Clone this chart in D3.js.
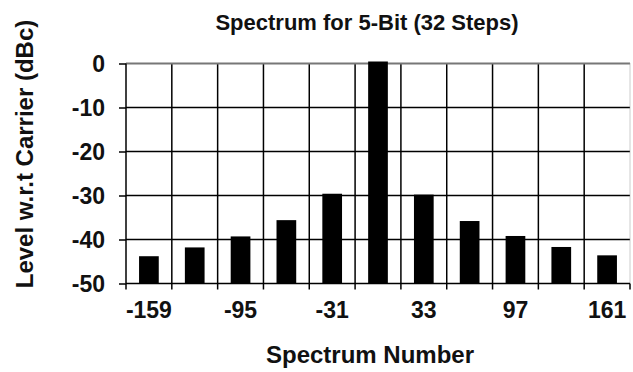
<!DOCTYPE html>
<html><head><meta charset="utf-8">
<script src="https://cdn.jsdelivr.net/npm/d3@7"></script>
<style>body{margin:0;background:#fff}svg{display:block}text{font-family:"Liberation Sans",Arial,sans-serif;font-weight:bold;fill:#111}</style>
</head><body>
<script>
const categories = [-159, -127, -95, -63, -31, 1, 33, 65, 97, 129, 161];
const levels = [-43.8, -41.8, -39.3, -35.6, -29.6, 0, -29.8, -35.8, -39.2, -41.7, -43.6];
const tickLabels = [-159, -95, -31, 33, 97, 161];
const yTicks = [0, -10, -20, -30, -40, -50];

const W = 633, H = 372;
const m = {left:126, right:3, top:63.5, bottom:88.5};
const svg = d3.select("body").append("svg").attr("width", W).attr("height", H);

const x = d3.scaleBand().domain(categories).range([m.left, W - m.right]).paddingInner(0.57).paddingOuter(0.285);
const xb = d3.scaleBand().domain(categories).range([m.left, W - m.right]);
const y = d3.scaleLinear().domain([-50, 0]).range([H - m.bottom, m.top]);

// horizontal gridlines
svg.append("g").selectAll("line").data(yTicks.filter(d => d !== 0 && d !== -50)).join("line")
  .attr("x1", m.left).attr("x2", W - m.right).attr("y1", d => y(d)).attr("y2", d => y(d))
  .attr("stroke", "#000").attr("stroke-width", 1.5);
// vertical gridlines at band boundaries
const bounds = categories.slice(1).map(c => xb(c));
svg.append("g").selectAll("line").data(bounds).join("line")
  .attr("x1", d => d).attr("x2", d => d).attr("y1", m.top).attr("y2", H - m.bottom + 6)
  .attr("stroke", "#000").attr("stroke-width", 1.5);
// top border (gray) and right border (dotted gray)
svg.append("line").attr("x1", m.left).attr("x2", W - m.right).attr("y1", y(0)).attr("y2", y(0))
  .attr("stroke", "#777").attr("stroke-width", 2);
svg.append("line").attr("x1", W - m.right).attr("x2", W - m.right).attr("y1", y(0)).attr("y2", y(-50))
  .attr("stroke", "#999").attr("stroke-width", 1).attr("stroke-dasharray", "1,1");

// bars
svg.append("g").selectAll("rect").data(categories).join("rect")
  .attr("x", (d) => x(d)).attr("width", x.bandwidth())
  .attr("y", (d, i) => y(levels[i]) - (levels[i] === 0 ? 2 : 0))
  .attr("height", (d, i) => y(-50) - y(levels[i]) + (levels[i] === 0 ? 2 : 0))
  .attr("fill", "#000");

// y axis
const yAxis = d3.axisLeft(y).tickValues(yTicks).tickSize(7).tickPadding(14).tickFormat(d => String(d));
const gy = svg.append("g").attr("transform", `translate(${m.left},0)`).call(yAxis);
gy.select(".domain").attr("stroke", "#000").attr("stroke-width", 1.5).attr("d", `M0,${y(0)}V${y(-50)}`);
gy.selectAll(".tick line").attr("stroke", "#000").attr("stroke-width", 1.5);
gy.selectAll("text").style("font-size", "23px").attr("fill", "#111").attr("dy", "0.36em");

// x axis
const gx = svg.append("g").attr("transform", `translate(0,${y(-50)})`);
gx.append("line").attr("x1", m.left).attr("x2", W - m.right).attr("stroke", "#000").attr("stroke-width", 1.5);
gx.selectAll("line.t").data([m.left, W - m.right]).join("line").attr("class","t")
  .attr("x1", d => d).attr("x2", d => d).attr("y1", 0).attr("y2", 6).attr("stroke", "#000").attr("stroke-width", 1.5);
gx.selectAll("text").data(tickLabels).join("text")
  .attr("x", d => xb(d) + xb.bandwidth() / 2).attr("y", 34)
  .attr("text-anchor", "middle").style("font-size", "23px").text(d => String(d));

// titles
svg.append("text").attr("x", 367).attr("y", 30).attr("text-anchor", "middle")
  .style("font-size", "22px").text("Spectrum for 5-Bit (32 Steps)");
svg.append("text").attr("x", 370).attr("y", 363).attr("text-anchor", "middle")
  .style("font-size", "24px").text("Spectrum Number");
svg.append("text").attr("transform", "translate(33,154) rotate(-90)").attr("text-anchor", "middle")
  .style("font-size", "24px").text("Level w.r.t Carrier (dBc)");
</script>
</body></html>
